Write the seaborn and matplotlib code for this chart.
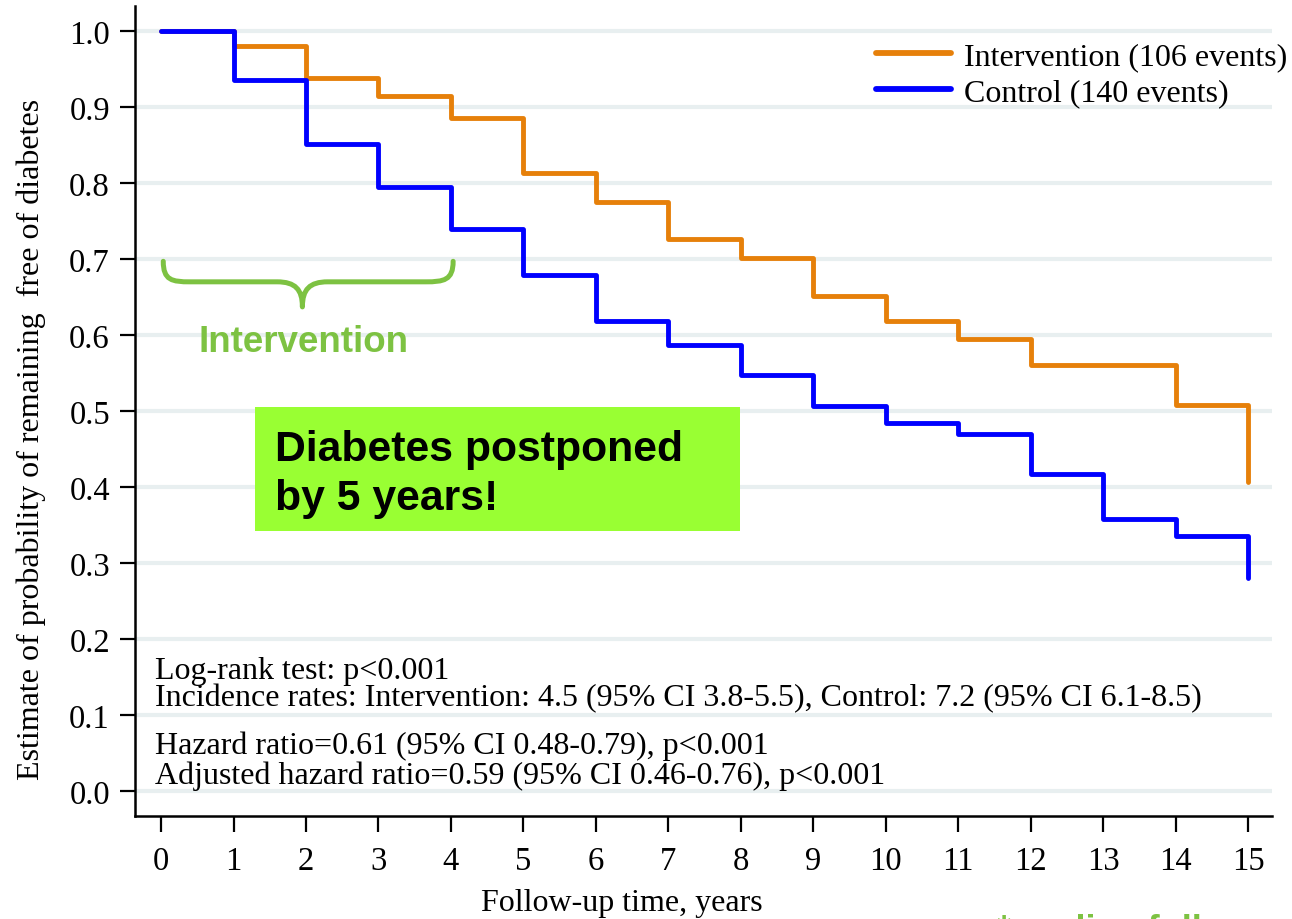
import numpy as np
import pandas as pd
import matplotlib
matplotlib.use("Agg")
import matplotlib.pyplot as plt
from matplotlib.path import Path
from matplotlib.patches import PathPatch, Rectangle
import seaborn as sns

# ---- data ----
times = [0, 1, 2, 3, 4, 5, 6, 7, 8, 9, 10, 11, 12, 13, 14, 15, 15]
intervention = [1.0, 0.981, 0.938, 0.914, 0.886, 0.813, 0.775, 0.727, 0.701,
                0.652, 0.619, 0.595, 0.560, 0.560, 0.508, 0.508, 0.406]
control = [1.0, 0.936, 0.851, 0.795, 0.740, 0.679, 0.618, 0.587, 0.547,
           0.507, 0.484, 0.470, 0.417, 0.358, 0.335, 0.335, 0.280]
groups = ["Intervention (106 events)", "Control (140 events)"]
colors = ["#e6800a", "#0000ff"]
x_ticks = list(range(0, 16))
y_ticks = [0.0, 0.1, 0.2, 0.3, 0.4, 0.5, 0.6, 0.7, 0.8, 0.9, 1.0]
stats_lines = [
    "Log-rank test: p<0.001",
    "Incidence rates: Intervention: 4.5 (95% CI 3.8-5.5), Control: 7.2 (95% CI 6.1-8.5)",
    "Hazard ratio=0.61 (95% CI 0.48-0.79), p<0.001",
    "Adjusted hazard ratio=0.59 (95% CI 0.46-0.76), p<0.001",
]
stats_y = [0.149, 0.113, 0.050, 0.0105]

df = pd.DataFrame({
    "time": times + times,
    "surv": intervention + control,
    "group": [groups[0]] * len(times) + [groups[1]] * len(times),
})

sns.set_style("white")
plt.rcParams["font.family"] = ["Liberation Serif", "DejaVu Serif"]
plt.rcParams["text.color"] = "black"
plt.rcParams["axes.labelcolor"] = "black"
plt.rcParams["xtick.color"] = "black"
plt.rcParams["ytick.color"] = "black"

fig = plt.figure(figsize=(12.92, 9.2), dpi=100)
W, H = 1292, 920
ax = fig.add_axes([135 / W, 1 - 817 / H, (1272 - 135) / W, (817 - 7) / H])

# gridlines
for yv in y_ticks:
    ax.axhline(yv, color="#e8eff0", lw=3.0, zorder=0)

sns.lineplot(data=df, x="time", y="surv", hue="group", hue_order=groups,
             palette=colors, estimator=None, sort=False,
             drawstyle="steps-post", lw=3.5, ax=ax, zorder=3)

ax.set_xlim(-0.36, 15.33)
ax.set_ylim(-0.033, 1.033)
ax.set_xticks(x_ticks)
ax.set_xticklabels([str(t) for t in x_ticks])
ax.set_yticks(y_ticks)
ax.set_yticklabels([f"{v:.1f}" for v in y_ticks])
ax.tick_params(axis="x", length=11.5, width=1.6, pad=10, labelsize=23.5, direction="out", bottom=True)
ax.tick_params(axis="y", length=11, width=1.6, pad=7, labelsize=23.5, direction="out", left=True)
for s in ["top", "right"]:
    ax.spines[s].set_visible(False)
for s in ["left", "bottom"]:
    ax.spines[s].set_linewidth(1.8)
    ax.spines[s].set_color("black")

ax.set_xlabel("Follow-up time, years", fontsize=23)
ax.xaxis.set_label_coords((622 - 135) / 1137, (817 - 889) / 810)
ax.set_ylabel("Estimate of probability of remaining  free of diabetes", fontsize=23)
ax.yaxis.set_label_coords((46 - 135) / 1137, (817 - 439) / 810)

# legend
handles, labels = ax.get_legend_handles_labels()
leg = ax.legend(handles, labels, loc="upper left",
                bbox_to_anchor=(876 / W, 1 - 43 / H), bbox_transform=fig.transFigure,
                frameon=False, fontsize=23, handlelength=2.35, handletextpad=0.42,
                labelspacing=0.2, borderpad=0, borderaxespad=0)
for ln in leg.get_lines():
    ln.set_linewidth(4.2)

# statistics text
for txt, yv in zip(stats_lines, stats_y):
    ax.text(-0.08, yv, txt, fontsize=23, va="baseline", ha="left", zorder=4)

# green box
ax.add_patch(Rectangle((1.297, 0.342), 7.99 - 1.297, 0.505 - 0.342,
                       facecolor="#99ff33", edgecolor="none", zorder=2))
ax.text(1.573, 0.436, "Diabetes postponed", fontsize=30.8, fontweight="bold", color="black",
        family=["Liberation Sans", "DejaVu Sans"], va="baseline", ha="left", zorder=4)
ax.text(1.573, 0.371, "by 5 years!", fontsize=30.8, fontweight="bold", color="black",
        family=["Liberation Sans", "DejaVu Sans"], va="baseline", ha="left", zorder=4)

# brace + Intervention label
green = "#7dc242"
verts = [(0.03, 0.697), (0.03, 0.672), (0.15, 0.670), (0.40, 0.670),
         (1.60, 0.670),
         (1.85, 0.670), (1.95, 0.660), (1.95, 0.637),
         (1.95, 0.660), (2.05, 0.670), (2.30, 0.670),
         (3.65, 0.670),
         (3.90, 0.670), (4.03, 0.672), (4.03, 0.697)]
codes = [Path.MOVETO, Path.CURVE4, Path.CURVE4, Path.CURVE4,
         Path.LINETO,
         Path.CURVE4, Path.CURVE4, Path.CURVE4,
         Path.CURVE4, Path.CURVE4, Path.CURVE4,
         Path.LINETO,
         Path.CURVE4, Path.CURVE4, Path.CURVE4]
ax.add_patch(PathPatch(Path(verts, codes), facecolor="none", edgecolor=green,
                       lw=3.6, capstyle="round", joinstyle="round", zorder=4))
ax.text(1.97, 0.579, "Intervention", fontsize=26.5, fontweight="bold", color=green,
        family=["Liberation Sans", "DejaVu Sans"], va="baseline", ha="center", zorder=4)

# cut-off footnote at the bottom edge
fig.text(997 / W, 1 - 914 / H, "*median follow-up", fontsize=26, fontweight="bold",
         color=green, family=["Liberation Sans", "DejaVu Sans"], va="top", ha="left")

fig.savefig("out.png", dpi=100)
